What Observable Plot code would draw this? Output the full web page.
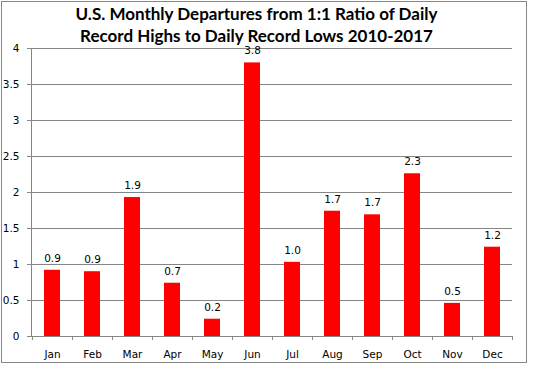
<!DOCTYPE html>
<html>
<head>
<meta charset="utf-8">
<script src="https://cdn.jsdelivr.net/npm/d3@7"></script>
<script src="https://cdn.jsdelivr.net/npm/@observablehq/plot@0.6"></script>
<style>
  html, body { margin: 0; padding: 0; background: #fff; }
  #wrap { position: relative; width: 545px; height: 372px; overflow: hidden; }
  #border { position: absolute; left: 1px; top: 1px; width: 524px; height: 360px; border: 1px solid #888; box-sizing: content-box; }
  #title { position: absolute; left: 0; top: 3px; width: 513px; text-align: center;
    font-family: Lato, "Open Sans", sans-serif; font-weight: 700; font-size: 17px; line-height: 22px; color: #000; }
  #chart { position: absolute; left: 0; top: 0; }
</style>
</head>
<body>
<div id="wrap">
  <div id="border"></div>
  <div id="chart"></div>
  <div id="title">U.S. Monthly Departures from 1:1 Ratio of Daily<br>Record Highs to Daily Record Lows 2010-2017</div>
</div>
<script>
const months = ["Jan","Feb","Mar","Apr","May","Jun","Jul","Aug","Sep","Oct","Nov","Dec"];
const values = [0.92, 0.90, 1.93, 0.74, 0.24, 3.80, 1.03, 1.74, 1.69, 2.26, 0.46, 1.24];
const yTicks = [0, 0.5, 1, 1.5, 2, 2.5, 3, 3.5, 4];

const data = months.map((m, i) => ({month: m, value: values[i]}));
const fmt = d3.format(".1f");

const W = 545, H = 372, ML = 31, MR = 33, MT = 48, MB = 36;
const step = (W - ML - MR) / months.length;
const gray = "#868686";

const chart = Plot.plot({
  width: W, height: H,
  marginLeft: ML, marginRight: MR, marginTop: MT, marginBottom: MB,
  style: {fontFamily: "DejaVu Sans, sans-serif", fontSize: "10.5px", color: "#000", background: "transparent", overflow: "visible"},
  x: {domain: months, paddingInner: 0.6, paddingOuter: 0.3, label: null},
  y: {domain: [0, 4], label: null},
  marks: [
    Plot.gridY(yTicks, {stroke: gray, strokeOpacity: 1}),
    Plot.axisY(yTicks, {tickSize: 4, tickPadding: 8, stroke: gray, strokeOpacity: 1, tickFormat: d => String(d), label: null}),
    Plot.barY(data, {x: "month", y: "value", fill: "#ff0000"}),
    Plot.text(data, {x: "month", y: "value", text: d => fmt(d.value), dy: -12, fill: "#000"}),
    Plot.frame({anchor: "left", stroke: gray}),
    Plot.frame({anchor: "bottom", stroke: gray}),
    Plot.ruleX(months, {x: d => d, dx: -step / 2, insetTop: H - MT - MB, insetBottom: -4, stroke: gray}),
    Plot.ruleX([months[months.length - 1]], {x: d => d, dx: step / 2, insetTop: H - MT - MB, insetBottom: -4, stroke: gray}),
    Plot.axisX({tickSize: 0, tickPadding: 14, label: null})
  ]
});
document.getElementById("chart").appendChild(chart);
</script>
</body>
</html>
